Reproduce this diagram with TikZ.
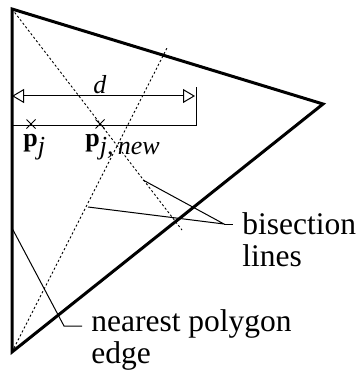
\documentclass[tikz,border=0pt]{standalone}
\usepackage{fontspec}
\setmainfont{Liberation Serif}
\usetikzlibrary{arrows.meta, positioning, shapes.misc}

\begin{document}
\begin{tikzpicture}[x=0.5pt, y=-0.5pt,
    polyedge/.style={line width=1.5pt, line join=miter},
    bisect/.style={line width=0.45pt, dash pattern=on 1.1pt off 1.1pt},
    thin line/.style={line width=0.5pt},
    ptmark/.style={cross out, draw, line width=0.5pt, minimum size=4pt, inner sep=0pt},
    bigtxt/.style={font=\fontsize{15.75}{16}\selectfont, align=left, inner sep=0pt, anchor=base west},
    smalltxt/.style={font=\fontsize{13}{15}\selectfont, inner sep=0pt}]
    \useasboundingbox (0,0) rectangle (358,374);

    % Polygon corner
    \coordinate (top) at (12,9);
    \coordinate (tip) at (323,104);
    \coordinate (bot) at (12,352);
    \draw[polyedge] (tip) -- (top) -- (bot) -- cycle;

    % Bisection lines
    \coordinate (bisA) at (182,230);
    \coordinate (bisB) at (167,48);
    \draw[bisect] (top) -- (bisA);
    \draw[bisect] (bot) -- (bisB);

    % Distance d
    \coordinate (dimL) at (12,96);
    \coordinate (dimR) at (195,96);
    \draw[thin line, {Triangle[open,length=6pt,width=7pt]}-{Triangle[open,length=6pt,width=7pt]}] (dimL) -- (dimR);
    \node[smalltxt, anchor=base] (dlbl) at (100,93) {\textit{d}};
    \coordinate (baseL) at (12,125);
    \coordinate (baseR) at (196,125);
    \coordinate (extTop) at (196,87);
    \draw[thin line] (baseL) -- (baseR) -- (extTop);

    % Points
    \node[ptmark] (pj) at (31,124) {};
    \node[ptmark] (pnew) at (100,124) {};
    \node[smalltxt, anchor=base west] (pjlbl) at (23,146) {\textbf{p}$_{\textit{j}}$};
    \node[smalltxt, anchor=base west] (pnewlbl) at (85,146) {\textbf{p}$_{\textit{j,\,new}}$};

    % Leader to bisection lines
    \coordinate (bisjoin) at (224,224);
    \coordinate (bisend) at (233,224);
    \coordinate (onA) at (143,180);
    \coordinate (onB) at (88,207);
    \draw[thin line] (onA) -- (bisjoin) -- (onB);
    \draw[thin line] (bisjoin) -- (bisend);
    \node[bigtxt] (bislbl) at (242,266) {bisection\\lines};

    % Leader to nearest edge
    \coordinate (onedge) at (12,228);
    \coordinate (nearjoin) at (64,326);
    \coordinate (nearend) at (82,326);
    \draw[thin line] (onedge) -- (nearjoin) -- (nearend);
    \node[bigtxt] (nearlbl) at (91,363) {nearest polygon\\edge};
\end{tikzpicture}
\end{document}
